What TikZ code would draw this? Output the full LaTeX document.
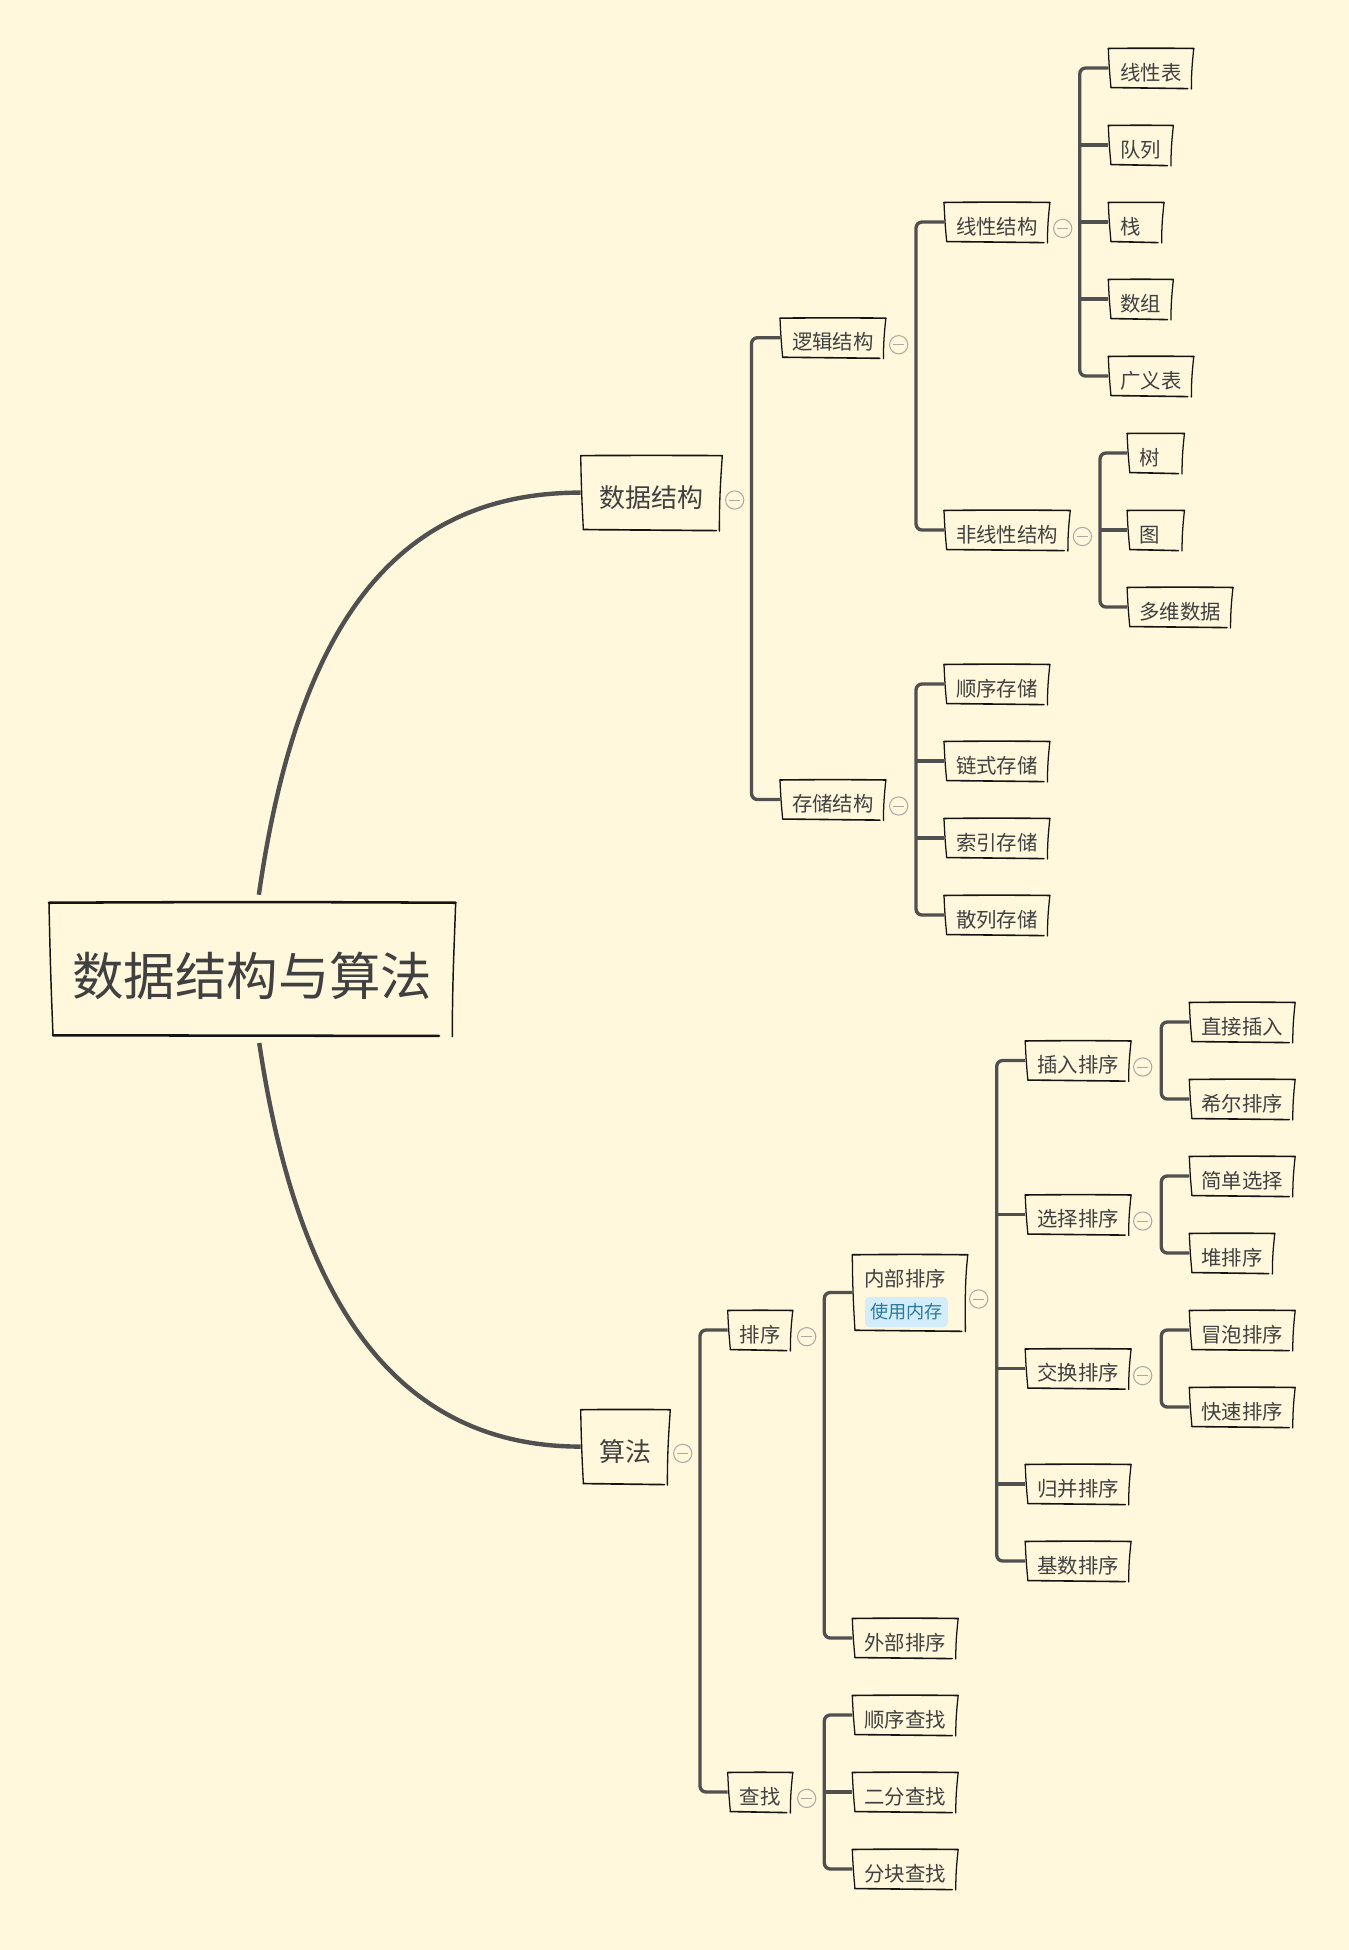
\documentclass[tikz,border=0pt]{standalone}
\usepackage{fontspec}
\setmainfont{Noto Sans CJK SC}
\definecolor{paper}{HTML}{FFF8DC}
\definecolor{ink}{HTML}{404040}
\definecolor{wire}{HTML}{505050}
\definecolor{pen}{HTML}{141414}
\definecolor{togglegray}{HTML}{A8A8A4}
\definecolor{tagfill}{HTML}{D3EEFA}
\definecolor{tagtext}{HTML}{2B7A9E}
\tikzset{
	roottopic/.style={anchor=west,text=ink,inner xsep=17.2pt,inner ysep=0pt,minimum height=99pt,text height=39pt,text depth=0pt,font=\fontsize{38.6}{44}\selectfont},
	maintopic/.style={anchor=west,text=ink,inner xsep=13.9pt,inner ysep=0pt,minimum height=55pt,text height=21.6pt,text depth=0pt,font=\fontsize{19.5}{24}\selectfont},
	subtopic/.style={anchor=west,text=ink,inner xsep=8.9pt,inner ysep=0pt,minimum height=28.9pt,text height=18.4pt,text depth=0pt,font=\fontsize{15.3}{18}\selectfont},
	innerword/.style={text=ink,inner sep=0pt,text height=11.6pt,text depth=0pt,font=\fontsize{15.3}{18}\selectfont},
	memotag/.style={fill=tagfill,text=tagtext,rounded corners=3pt,inner sep=0pt,minimum width=62pt,minimum height=22.5pt,text height=10.3pt,text depth=0pt,font=\fontsize{13.6}{16}\selectfont},
	toggle/.style={circle,draw=togglegray,line width=0.75pt,inner sep=0pt,minimum size=13.7pt,
		path picture={\draw[togglegray,line width=0.75pt] ([xshift=-4.1pt]path picture bounding box.center) -- ([xshift=4.1pt]path picture bounding box.center);}},
	branch/.style={draw=wire,line width=2.5pt,rounded corners=4.5pt},
	bigcurve/.style={draw=wire,line width=3.3pt},
	penline/.style={draw=pen,line width=#1,line cap=round}
}
\begin{document}
\begin{tikzpicture}[x=0.75pt,y=-0.75pt]
	\fill[paper] (0,0) rectangle (1349,1950);
	\useasboundingbox (0,0) rectangle (1349,1950);

	% centre
	\node[roottopic] (root) at (49,969) {数据结构与算法};
	\node[maintopic] (sjjg) at (580.7,492.6) {数据结构};
	\node[maintopic] (sf) at (580.7,1446.6) {算法};

	% data structures
	\node[subtopic] (ljjg) at (780,337.7) {逻辑结构};
	\node[subtopic] (ccjg) at (780,799.5) {存储结构};
	\node[subtopic] (xxjg) at (944,222) {线性结构};
	\node[subtopic] (fxx) at (944,530) {非线性结构};
	\node[subtopic] (xxb) at (1108.3,68) {线性表};
	\node[subtopic] (dl) at (1108.3,145) {队列};
	\node[subtopic] (zhan) at (1108.3,222) {栈\hspace*{8.3pt}};
	\node[subtopic] (sz) at (1108.3,299) {数组};
	\node[subtopic] (gyb) at (1108.3,376) {广义表};
	\node[subtopic] (shu) at (1127.1,453) {树\hspace*{9.5pt}};
	\node[subtopic] (tu) at (1127.1,530) {图\hspace*{9.5pt}};
	\node[subtopic] (dwsj) at (1127.1,607) {多维数据};
	\node[subtopic] (sxcc) at (944,684) {顺序存储};
	\node[subtopic] (lscc) at (944,761) {链式存储};
	\node[subtopic] (sycc) at (944,838) {索引存储};
	\node[subtopic] (slcc) at (944,915) {散列存储};

	% algorithms
	\node[subtopic] (px) at (727.7,1330) {排序};
	\node[subtopic] (cz) at (727.7,1792) {查找};
	\node[subtopic,minimum width=86.2pt,minimum height=56.2pt] (nb) at (852.3,1292.5) {};
	\node[innerword] (nbword) at (905.3,1278.3) {内部排序};
	\node[memotag] (nbtag) at (906.5,1312) {使用内存};
	\node[subtopic] (wb) at (852.3,1638) {外部排序};
	\node[subtopic] (sxcz) at (852.3,1715) {顺序查找};
	\node[subtopic] (efcz) at (852.3,1792) {二分查找};
	\node[subtopic] (fkcz) at (852.3,1869) {分块查找};
	\node[subtopic] (crpx) at (1025.2,1060.5) {插入排序};
	\node[subtopic] (xzpx) at (1025.2,1214.5) {选择排序};
	\node[subtopic] (jhpx) at (1025.2,1368.5) {交换排序};
	\node[subtopic] (gbpx) at (1025.2,1484) {归并排序};
	\node[subtopic] (jspx) at (1025.2,1561) {基数排序};
	\node[subtopic] (zjcr) at (1189.3,1022) {直接插入};
	\node[subtopic] (xepx) at (1189.3,1099) {希尔排序};
	\node[subtopic] (jdxz) at (1189.3,1176) {简单选择};
	\node[subtopic] (dpx) at (1189.3,1253) {堆排序};
	\node[subtopic] (mppx) at (1189.3,1330) {冒泡排序};
	\node[subtopic] (kspx) at (1189.3,1407) {快速排序};

	% collapse marks
	\node[toggle] (tgsjjg) at (734.7,500) {};
	\node[toggle] (tgsf) at (682.7,1453.4) {};
	\node[toggle] (tgljjg) at (898.7,344.7) {};
	\node[toggle] (tgccjg) at (898.7,806) {};
	\node[toggle] (tgxxjg) at (1062.7,228.4) {};
	\node[toggle] (tgfxx) at (1082.4,536.5) {};
	\node[toggle] (tgpx) at (806.7,1336.7) {};
	\node[toggle] (tgcz) at (806.7,1798.4) {};
	\node[toggle] (tgnb) at (978.7,1299) {};
	\node[toggle] (tgcrpx) at (1142.7,1067) {};
	\node[toggle] (tgxzpx) at (1142.7,1221) {};
	\node[toggle] (tgjhpx) at (1142.7,1375.6) {};

	% sketched frames
	\foreach \n in {ljjg,ccjg,xxjg,fxx,xxb,dl,zhan,sz,gyb,shu,tu,dwsj,sxcc,lscc,sycc,slcc,px,cz,nb,wb,sxcz,efcz,fkcz,crpx,xzpx,jhpx,gbpx,jspx,zjcr,xepx,jdxz,dpx,mppx,kspx}
	{
		\draw[penline=1.2pt] (\n.north west) to[bend left=0.6] (\n.north east);
		\draw[penline=0.95pt] (\n.north west) to[bend right=1.5] ([xshift=2pt]\n.south west);
		\draw[penline=1.2pt] ([xshift=2pt]\n.south west) -- ([xshift=-4.5pt,yshift=-0.8pt]\n.south east);
		\draw[penline=0.95pt] (\n.north east) to[out=-96,in=90] ([xshift=-1.8pt,yshift=-1.1pt]\n.south east);
	}
	\foreach \n in {sjjg,sf}
	{
		\draw[penline=1.25pt] (\n.north west) to[bend left=0.4] (\n.north east);
		\draw[penline=1pt] (\n.north west) to[bend right=1] ([xshift=2pt]\n.south west);
		\draw[penline=1.25pt] ([xshift=2pt]\n.south west) -- ([xshift=-4.5pt,yshift=-0.8pt]\n.south east);
		\draw[penline=1pt] (\n.north east) to[out=-94,in=90] ([xshift=-2.2pt,yshift=-1.2pt]\n.south east);
	}
	\draw[penline=1.9pt] (root.north west) to[bend left=0.3] (root.north east);
	\draw[penline=1.1pt] (root.north west) to[bend right=0.6] ([xshift=3pt]root.south west);
	\draw[penline=1.9pt] ([xshift=3pt]root.south west) -- ([xshift=-12.5pt,yshift=-0.5pt]root.south east);
	\draw[penline=1.1pt] (root.north east) to[out=-92,in=90] ([xshift=-2.5pt,yshift=-1pt]root.south east);

	% centre to main topics
	\coordinate (rootup) at ([xshift=4.9pt,yshift=6pt]root.north);
	\coordinate (rootdown) at ([xshift=5.2pt,yshift=-5.8pt]root.south);
	\draw[bigcurve] (rootup) .. controls (298,621) and (398,492.6) .. (sjjg.west);
	\draw[bigcurve] (rootdown) .. controls (298,1305) and (398,1446.6) .. (sf.west);

	% trunks
	\coordinate (trsjjg) at (751.5,0);
	\coordinate (trljjg) at (916,0);
	\coordinate (trxxjg) at (1079.7,0);
	\coordinate (trfxx) at (1100,0);
	\coordinate (trsf) at (700,0);
	\coordinate (trpx) at (824.3,0);
	\coordinate (trnb) at (996.7,0);
	\coordinate (trcrpx) at (1161.3,0);

	\draw[branch] (ljjg.west) -- (ljjg.west -| trsjjg) -- (ccjg.west -| trsjjg) -- (ccjg.west);
	\draw[branch] (xxjg.west) -- (xxjg.west -| trljjg) -- (fxx.west -| trljjg) -- (fxx.west);
	\draw[branch] (xxb.west) -- (xxb.west -| trxxjg) -- (gyb.west -| trxxjg) -- (gyb.west);
	\foreach \n in {dl,zhan,sz}
		\draw[branch] (\n.west -| trxxjg) -- (\n.west);
	\draw[branch] (shu.west) -- (shu.west -| trfxx) -- (dwsj.west -| trfxx) -- (dwsj.west);
	\draw[branch] (tu.west -| trfxx) -- (tu.west);
	\draw[branch] (sxcc.west) -- (sxcc.west -| trljjg) -- (slcc.west -| trljjg) -- (slcc.west);
	\foreach \n in {lscc,sycc}
		\draw[branch] (\n.west -| trljjg) -- (\n.west);
	\draw[branch] (px.west) -- (px.west -| trsf) -- (cz.west -| trsf) -- (cz.west);
	\draw[branch] (nb.west) -- (nb.west -| trpx) -- (wb.west -| trpx) -- (wb.west);
	\draw[branch] (sxcz.west) -- (sxcz.west -| trpx) -- (fkcz.west -| trpx) -- (fkcz.west);
	\draw[branch] (efcz.west -| trpx) -- (efcz.west);
	\draw[branch] (crpx.west) -- (crpx.west -| trnb) -- (jspx.west -| trnb) -- (jspx.west);
	\foreach \n in {xzpx,jhpx,gbpx}
		\draw[branch] (\n.west -| trnb) -- (\n.west);
	\draw[branch] (zjcr.west) -- (zjcr.west -| trcrpx) -- (xepx.west -| trcrpx) -- (xepx.west);
	\draw[branch] (jdxz.west) -- (jdxz.west -| trcrpx) -- (dpx.west -| trcrpx) -- (dpx.west);
	\draw[branch] (mppx.west) -- (mppx.west -| trcrpx) -- (kspx.west -| trcrpx) -- (kspx.west);

\end{tikzpicture}
\end{document}
